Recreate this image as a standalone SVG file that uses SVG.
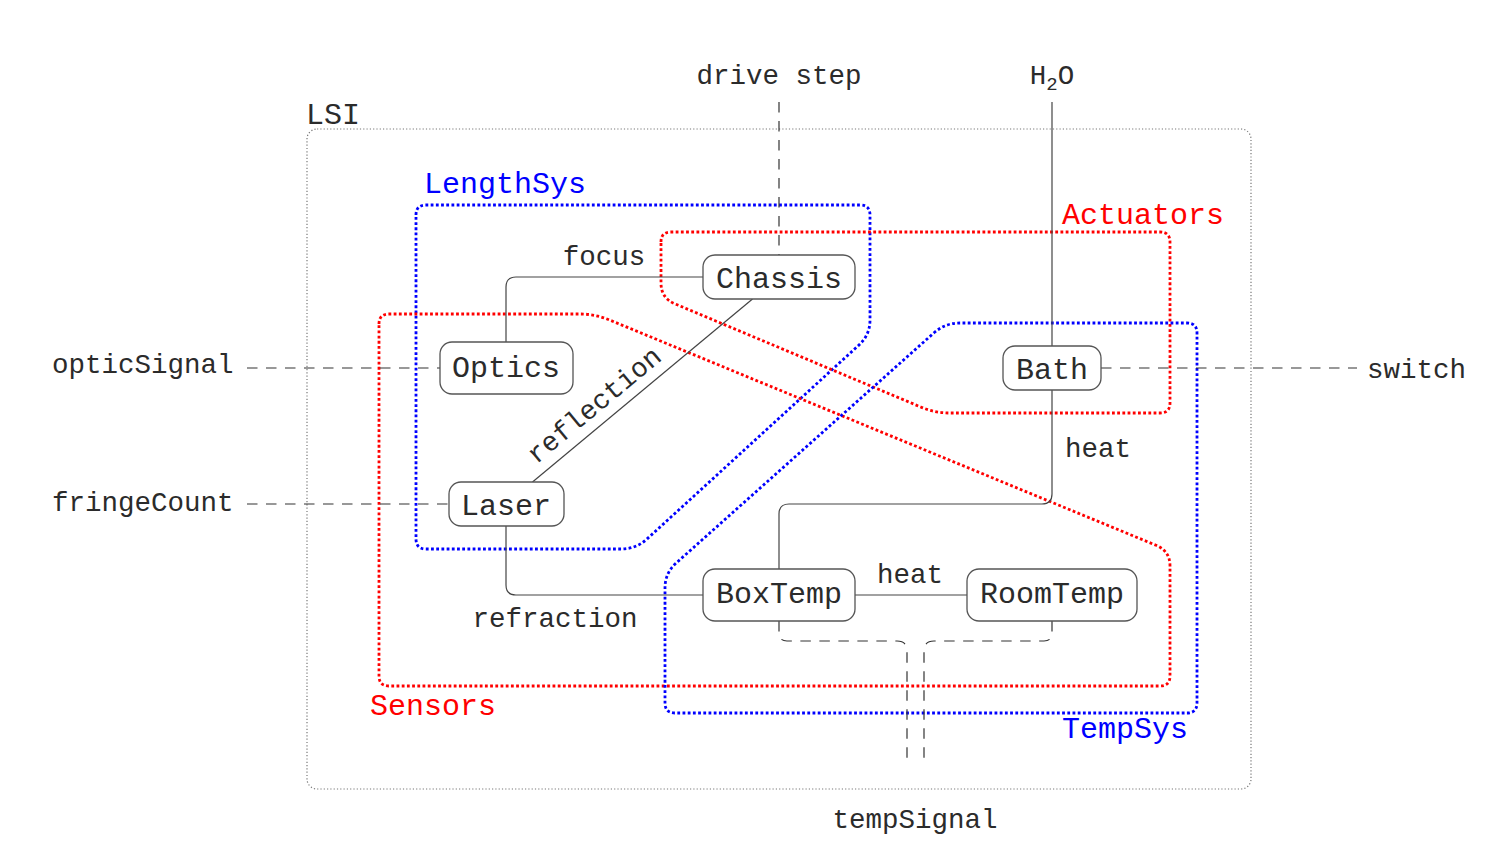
<svg xmlns="http://www.w3.org/2000/svg" width="1512" height="844" viewBox="0 0 1512 844">
<style>
text{font-family:"Liberation Mono","DejaVu Sans Mono",monospace;fill:#2b2b2b}
.lbl{font-size:27.5px}
.big{font-size:30px}
.blue{fill:#0000ff}
.red{fill:#ff0000}
.mid{text-anchor:middle}
.grp{fill:none;stroke-width:2.8;stroke-dasharray:2.8 2.4}
.gb{stroke:#0000ff}
.gr{stroke:#ff0000}
.node rect{fill:#fff;stroke:#555;stroke-width:1.3}
.con path{fill:none;stroke:#444;stroke-width:1.2}
.con .dash{stroke:#333;stroke-dasharray:10.5 8.5}
</style>
<rect width="1512" height="844" fill="#fff"/>
<g id="LSI">
<rect x="307" y="129" width="944" height="660" rx="10" fill="none" stroke="#777" stroke-width="1.2" stroke-dasharray="1.2 2.1"/>
<text class="big" x="306" y="124">LSI</text>
</g>
<g id="LengthSys">
<path class="grp gb" d="M416,215 Q416,205 426,205 H860 Q870,205 870,215 V320 Q870,335 858.9,345.1 L647.1,538.9 Q636,549 621,549 H426 Q416,549 416,539 Z"/>
<text class="big blue" x="424" y="193">LengthSys</text>
</g>
<g id="Actuators">
<path class="grp gr" d="M661,242 Q661,232 671,232 H1160 Q1170,232 1170,242 V403 Q1170,413 1160,413 H950 Q935,413 921.2,407.2 L674.8,303.8 Q661,298 661,283 Z"/>
<text class="big red" x="1062" y="224">Actuators</text>
</g>
<g id="Sensors">
<path class="grp gr" d="M379,324 Q379,314 389,314 H580 Q595,314 608.9,319.7 L1156.1,545.3 Q1170,551 1170,566 V676 Q1170,686 1160,686 H389 Q379,686 379,676 Z"/>
<text class="big red" x="370" y="715">Sensors</text>
</g>
<g id="TempSys">
<path class="grp gb" d="M933.8,333 Q945,323 960,323 H1187 Q1197,323 1197,333 V703 Q1197,713 1187,713 H675 Q665,713 665,703 V588 Q665,573 676.2,563 Z"/>
<text class="big blue" x="1062" y="738">TempSys</text>
</g>
<g id="connectors" class="con">
<path d="M703,277 H516 Q506,277 506,287 V342"/>
<path d="M752.5,299 L532.5,482"/>
<path d="M506,526 V585 Q506,595 516,595 H703"/>
<path d="M1052,390 V494 Q1052,504 1042,504 H789 Q779,504 779,514 V569"/>
<path d="M855,595 H967"/>
<path d="M1052,102 V346"/>
<path class="dash" d="M779,102 V255"/>
<path class="dash" d="M247,368 H440"/>
<path class="dash" d="M247,504 H449"/>
<path class="dash" d="M1101,368 H1357"/>
<path class="dash" d="M779,621 V633 Q779,641 787,641 H897 Q907,641 907,651 V765"/>
<path class="dash" d="M1052,621 V633 Q1052,641 1044,641 H934 Q924,641 924,651 V765"/>
<text class="lbl mid" x="604" y="265">focus</text>
<text class="lbl mid" transform="translate(594,405) rotate(-39.7)" y="9">reflection</text>
<text class="lbl mid" x="555" y="627">refraction</text>
<text class="lbl" x="1065" y="457">heat</text>
<text class="lbl mid" x="910" y="583">heat</text>
<text class="lbl mid" x="779" y="84">drive step</text>
<text class="lbl mid" x="1052" y="84">H<tspan font-size="19" dy="6">2</tspan><tspan dy="-6">O</tspan></text>
<text class="lbl" x="52" y="373">opticSignal</text>
<text class="lbl" x="52" y="511">fringeCount</text>
<text class="lbl" x="1367" y="378">switch</text>
<text class="lbl mid" x="915" y="828">tempSignal</text>
</g>
<g id="Chassis" class="node"><rect x="703" y="255" width="152" height="44" rx="12"/><text class="big mid" x="779" y="288">Chassis</text></g>
<g id="Optics" class="node"><rect x="440" y="342" width="133" height="52" rx="12"/><text class="big mid" x="506" y="377">Optics</text></g>
<g id="Laser" class="node"><rect x="449" y="482" width="115" height="44" rx="12"/><text class="big mid" x="506" y="515">Laser</text></g>
<g id="Bath" class="node"><rect x="1003" y="346" width="98" height="44" rx="12"/><text class="big mid" x="1052" y="379">Bath</text></g>
<g id="BoxTemp" class="node"><rect x="703" y="569" width="152" height="52" rx="12"/><text class="big mid" x="779" y="603">BoxTemp</text></g>
<g id="RoomTemp" class="node"><rect x="967" y="569" width="170" height="52" rx="12"/><text class="big mid" x="1052" y="603">RoomTemp</text></g>
</svg>
